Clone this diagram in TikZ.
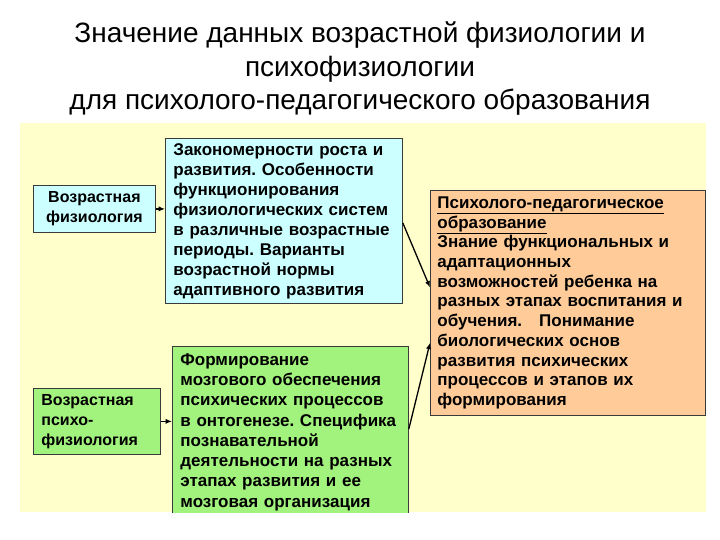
\documentclass[tikz,border=0pt]{standalone}
\usepackage{fontspec}
\setmainfont{Liberation Sans}
\frenchspacing
\usetikzlibrary{arrows.meta,positioning}
\definecolor{bgpale}{HTML}{FFFFCC}
\definecolor{fillblue}{HTML}{CCFFFF}
\definecolor{fillgreen}{HTML}{A2F27E}
\definecolor{fillpeach}{HTML}{FFCC99}
\definecolor{boxedge}{HTML}{3A3A3A}

\begin{document}
\begin{tikzpicture}[
  x=1pt, y=-1pt,
  box/.style={draw=boxedge, line width=0.8pt, anchor=north west, align=left,
              inner xsep=8pt, inner ysep=3pt,
              font=\fontsize{17}{20}\selectfont\bfseries},
  src/.style={box, font=\fontsize{16}{20}\selectfont\bfseries},
  ar/.style={-{Latex[length=2.2mm,width=1.8mm]}, line width=1.3pt, draw=black},
]
\useasboundingbox (0,0) rectangle (720,540);
\node[align=center, font=\fontsize{28}{33.5}\selectfont] (title) at (360,69)
  {Значение данных возрастной физиологии и\\психофизиологии\\для психолого-педагогического образования};
\fill[bgpale] (20,123) rectangle (706,512);

% left column: disciplines
\node[src, fill=fillblue, text width=106pt, minimum height=47pt, align=center] (fiz) at (33,185)
  {Возрастная\\физиология};
\node[src, fill=fillgreen, text width=111pt, minimum height=66pt, inner xsep=8pt] (psyfiz) at (33,388)
  {Возрастная\\психо-\\физиология};

% middle column: content
\node[box, fill=fillblue, text width=221pt, minimum height=165pt] (zakon) at (165,138)
  {Закономерности роста и\\развития. Особенности\\функционирования\\физиологических систем\\в различные возрастные\\периоды. Варианты\\возрастной нормы\\адаптивного развития};
\begin{scope}
  \clip (20,123) rectangle (706,512);
  \node[box, fill=fillgreen, text width=220pt, inner ysep=7pt, font=\fontsize{17}{20.3}\selectfont\bfseries] (mozg) at (172,346)
    {Формирование\\мозгового обеспечения\\психических процессов\\в онтогенезе. Специфика\\познавательной\\деятельности на разных\\этапах развития и ее\\мозговая организация};
\end{scope}

% right column: outcome
\node[box, fill=fillpeach, text width=261pt, minimum height=225pt, inner xsep=7pt,
      font=\fontsize{17}{19.7}\selectfont\bfseries] (obraz) at (430,190)
  {\underline{Психолого-педагогическое}\\\underline{образование}\\Знание функциональных и\\адаптационных\\возможностей ребенка на\\разных этапах воспитания и\\обучения.\ \ \ Понимание\\биологических основ\\развития психических\\процессов и этапов их\\формирования};

\draw[ar] (fiz.east) -- (fiz.east -| zakon.west);
\draw[ar] (psyfiz.east) -- (psyfiz.east -| mozg.west);
\draw[ar] ([yshift=-2pt]zakon.east) -- ([yshift=15.5pt]obraz.west);
\draw[ar] ([yshift=3pt]mozg.east) -- ([yshift=-40pt]obraz.west);
\end{tikzpicture}
\end{document}
